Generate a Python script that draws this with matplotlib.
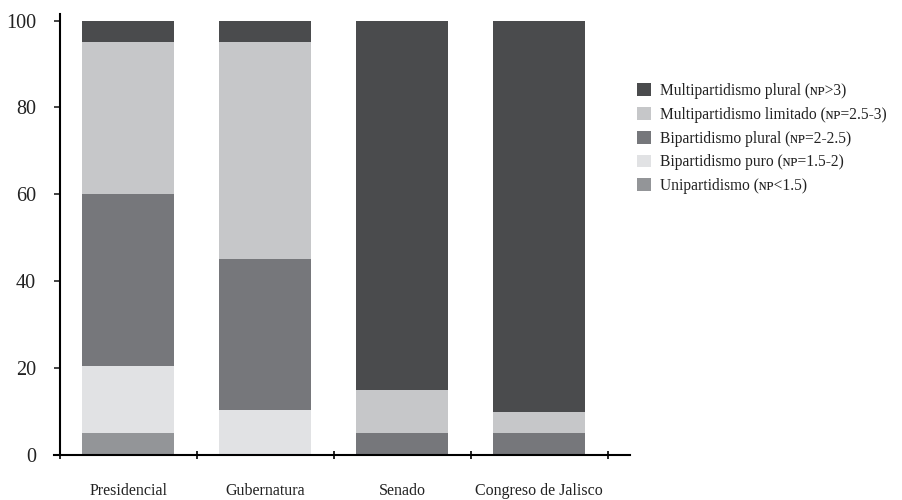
import matplotlib.pyplot as plt
import numpy as np

plt.rcParams['font.family'] = ['Liberation Serif', 'DejaVu Serif']

categories = ["Presidencial", "Gubernatura", "Senado", "Congreso de Jalisco"]
series_names = [
    "Unipartidismo (ɴᴘ<1.5)",
    "Bipartidismo puro (ɴᴘ=1.5-2)",
    "Bipartidismo plural (ɴᴘ=2-2.5)",
    "Multipartidismo limitado (ɴᴘ=2.5-3)",
    "Multipartidismo plural (ɴᴘ>3)",
]
unipartidismo = [5, 0, 0, 0]
bip_puro = [15.5, 10.3, 0, 0]
bip_plural = [39.5, 34.7, 5, 5]
multi_limitado = [35, 50, 10, 5]
multi_plural = [5, 5, 85, 90]
values = [unipartidismo, bip_puro, bip_plural, multi_limitado, multi_plural]
colors = ["#939598", "#e1e2e4", "#76777b", "#c6c7c9", "#4a4b4d"]

fig = plt.figure(figsize=(9.02, 5), dpi=100)
ax = fig.add_axes([0.06, 0.09, 0.638, 0.882])

x = np.arange(len(categories))
bottom = np.zeros(len(categories))
handles = []
for name, vals, c in zip(series_names, values, colors):
    b = ax.bar(x, vals, 0.67, bottom=bottom, color=c, label=name)
    bottom += np.array(vals)
    handles.append(b)

ax.set_xlim(-0.54, 3.66)
ax.set_ylim(0, 101.5)
ax.spines['top'].set_visible(False)
ax.spines['right'].set_visible(False)
ax.spines['left'].set_position(('data', -0.5))
ax.spines['left'].set_linewidth(1.5)
ax.spines['bottom'].set_linewidth(1.5)
ax.spines['left'].set_bounds(0, 101.5)

ax.set_yticks([0, 20, 40, 60, 80, 100])
ax.tick_params(axis='y', labelsize=14.5, length=4, width=1.2, pad=13, colors='#222222')

ax.set_xticks(np.arange(-0.5, 4.0, 1.0))
ax.set_xticklabels([])
ax.tick_params(axis='x', which='major', length=6, width=1.2, direction='inout')
ax.set_xticks(x, minor=True)
ax.set_xticklabels(categories, minor=True)
ax.tick_params(axis='x', which='minor', length=0, pad=20, labelsize=11.5, colors='#222222')

leg = fig.legend(handles[::-1], series_names[::-1], loc='upper left',
                 bbox_to_anchor=(0.706, 0.834), frameon=False, fontsize=11.2,
                 handlelength=0.9, handleheight=0.9, labelspacing=0.5,
                 handletextpad=0.6, borderpad=0, borderaxespad=0)
for t in leg.get_texts():
    t.set_color('#222222')

plt.savefig("out.png", dpi=100)
